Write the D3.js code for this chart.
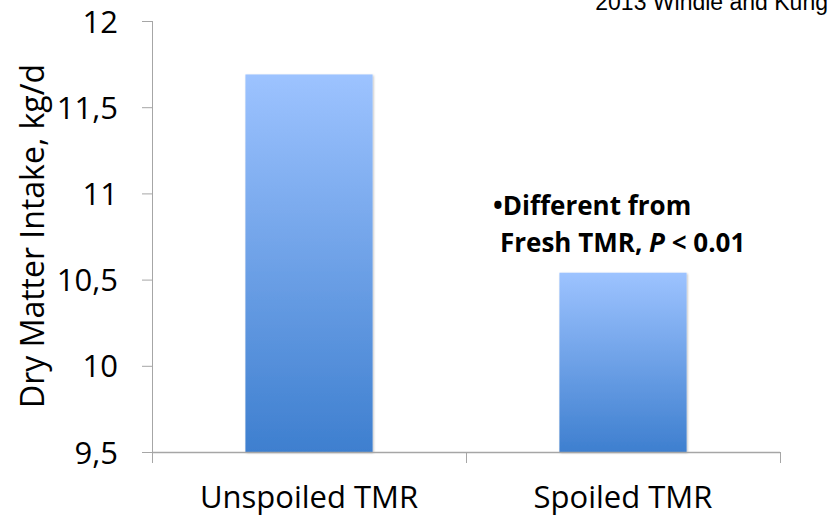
<!DOCTYPE html>
<html>
<head>
<meta charset="utf-8">
<script src="https://cdn.jsdelivr.net/npm/d3@7"></script>
<style>
  body { margin: 0; background: #fff; }
  text { font-family: "Open Sans", Lato, sans-serif; fill: #000; }
</style>
</head>
<body>
<div class="graph"></div>
<script>
var categories = ['Unspoiled TMR', 'Spoiled TMR'];
var intake = [11.69, 10.54];
var yTicks = [9.5, 10, 10.5, 11, 11.5, 12];

var width = 833,
    height = 516,
    margin = {top: 21, right: 53, bottom: 64, left: 152};

var svg = d3.select('div.graph')
    .append('svg')
        .attr('width', width)
        .attr('height', height);

var defs = svg.append('defs');
var grad = defs.append('linearGradient')
    .attr('id', 'barGrad')
    .attr('x1', 0).attr('y1', 0).attr('x2', 0).attr('y2', 1);
grad.append('stop').attr('offset', '0%').attr('stop-color', '#9dc3ff');
grad.append('stop').attr('offset', '100%').attr('stop-color', '#3e7fcf');

var shadow = defs.append('filter').attr('id', 'shadow')
    .attr('x', '-10%').attr('y', '-10%').attr('width', '130%').attr('height', '130%');
shadow.append('feDropShadow')
    .attr('dx', 1).attr('dy', 1).attr('stdDeviation', 1.2)
    .attr('flood-color', '#000').attr('flood-opacity', 0.25);

var x = d3.scaleBand()
    .domain(categories)
    .range([margin.left, width - margin.right])
    .paddingInner(0)
    .paddingOuter(0);

var y = d3.scaleLinear()
    .domain([9.5, 12])
    .range([height - margin.bottom, margin.top]);

var barW = x.bandwidth() * 0.405;

svg.selectAll('rect.bar')
    .data(intake)
    .enter()
    .append('rect')
        .attr('class', 'bar')
        .attr('x', (d, i) => x(categories[i]) + (x.bandwidth() - barW) / 2)
        .attr('y', (d) => y(d))
        .attr('width', barW)
        .attr('height', (d) => y(9.5) - y(d))
        .attr('fill', 'url(#barGrad)')
        .attr('filter', 'url(#shadow)');

// y axis
var yAxis = svg.append('g')
    .attr('transform', 'translate(' + margin.left + ',0)')
    .call(d3.axisLeft(y).tickValues(yTicks).tickSize(10).tickPadding(24)
        .tickFormat((d) => String(d).replace('.', ',')));
yAxis.select('.domain').attr('stroke', '#a6a6a6').attr('d', 'M0.5,' + margin.top + 'V' + (height - margin.bottom + 11));
yAxis.selectAll('.tick line').attr('stroke', '#a6a6a6');
yAxis.selectAll('.tick text')
    .style('font-size', '31px')
    .attr('dy', '0.36em');

// x axis
var xAxis = svg.append('g')
    .attr('transform', 'translate(0,' + y(9.5) + ')');
xAxis.append('line')
    .attr('x1', margin.left).attr('x2', width - margin.right)
    .attr('y1', 0.5).attr('y2', 0.5)
    .attr('stroke', '#a6a6a6').attr('stroke-width', 1.5);
var bounds = categories.map((c) => x(c)).concat([width - margin.right]);
xAxis.selectAll('line.tk')
    .data(bounds)
    .enter()
    .append('line')
        .attr('class', 'tk')
        .attr('x1', (d) => d + 0.5).attr('x2', (d) => d + 0.5)
        .attr('y1', 0).attr('y2', 11)
        .attr('stroke', '#a6a6a6');
xAxis.selectAll('text')
    .data(categories)
    .enter()
    .append('text')
        .attr('x', (d) => x(d) + x.bandwidth() / 2)
        .attr('y', 56)
        .attr('text-anchor', 'middle')
        .style('font-size', '31px')
        .text((d) => d);

// y label
svg.append('text')
    .attr('transform', 'translate(44,' + 236 + ') rotate(-90)')
    .attr('text-anchor', 'middle')
    .style('font-size', '32px')
    .text('Dry Matter Intake, kg/d');

// source
svg.append('text')
    .attr('x', 828)
    .attr('y', 10)
    .attr('text-anchor', 'end')
    .style('font-family', '"Liberation Sans", Arial, sans-serif')
    .style('font-size', '23px')
    .text('2013 Windle and Kung');

// annotation
var note = svg.append('g').style('font-weight', 'bold').style('font-size', '26px');
note.append('text')
    .attr('x', 493).attr('y', 215)
    .text('\u2022Different from');
var t2 = note.append('text')
    .attr('x', 500).attr('y', 252);
t2.append('tspan').text('Fresh TMR, ');
t2.append('tspan').style('font-style', 'italic').text('P');
t2.append('tspan').text(' < 0.01');
</script>
</body>
</html>
